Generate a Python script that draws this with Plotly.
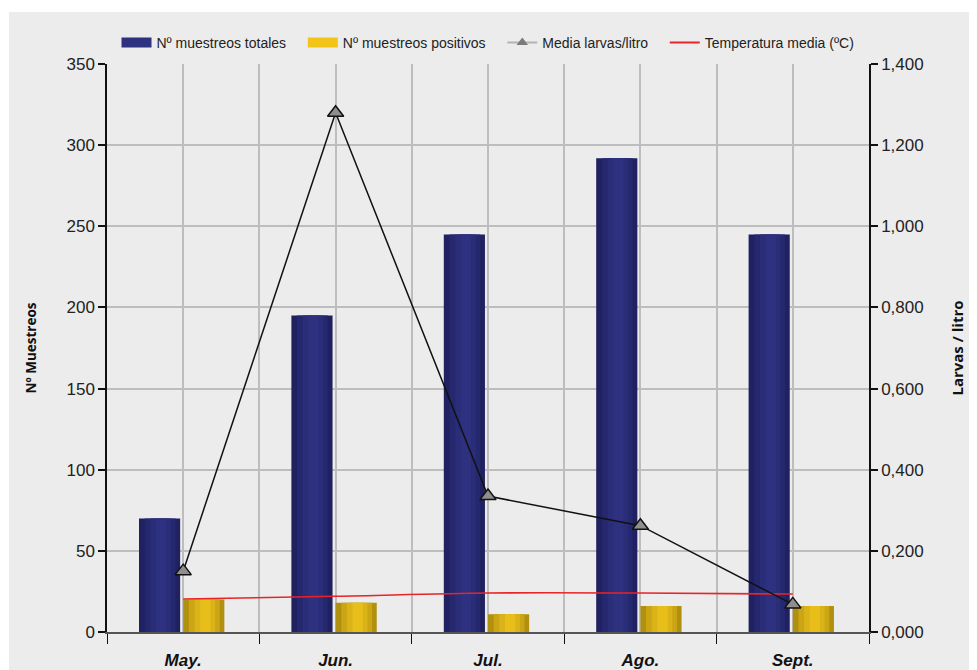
import plotly.graph_objects as go

months = ["May.", "Jun.", "Jul.", "Ago.", "Sept."]
totales = [70, 195, 245, 292, 245]
positivos = [20, 18, 11, 16, 16]
larvas = [0.150, 1.280, 0.335, 0.262, 0.068]
temperatura = [20.3, 22.0, 24.0, 24.0, 23.4]
right_ticks = [0, 0.2, 0.4, 0.6, 0.8, 1.0, 1.2, 1.4]
right_labels = ["0,000", "0,200", "0,400", "0,600", "0,800", "1,000", "1,200", "1,400"]

xs = list(range(len(months)))
BG = "#ECECEC"
GRID = "#BDBDBD"
BW = 0.27
PAD = "\u00a0" * 3  # extra spacing between legend entries

fig = go.Figure()

def cylinder(values, offset, shades, name):
    # shaded strips across the bar width give a cylinder look
    n = len(shades)
    for i, c in enumerate(shades):
        w = BW * (1 - i / n) if i else BW
        off = offset + (BW - w) * 0.55 if i else offset
        fig.add_trace(go.Bar(x=xs, y=values, name=name, showlegend=False,
                             marker=dict(color=c, line=dict(width=0)),
                             width=w, offset=off, hoverinfo="skip" if i else None))

cylinder(totales, -0.29, ["#1F2160", "#25286E", "#2A2D78", "#2E3180"], "Nº muestreos totales")
cylinder(positivos, 0.0, ["#B0900F", "#CBA514", "#DAB318", "#E8BE1B"], "Nº muestreos positivos")

fig.add_trace(go.Scatter(x=xs, y=larvas, yaxis="y2", mode="lines+markers", showlegend=False,
                         name="Media larvas/litro",
                         line=dict(color="#111111", width=1.5),
                         marker=dict(symbol="triangle-up", size=14, color="#8E8E8E",
                                     line=dict(color="#111111", width=1.5))))
fig.add_trace(go.Scatter(x=xs, y=temperatura, mode="lines", showlegend=False,
                         name="Temperatura media (ºC)",
                         line=dict(color="#E8232A", width=1.6, shape="spline")))

# legend entries
fig.add_trace(go.Scatter(x=[None], y=[None], mode="lines", name="Nº muestreos totales" + PAD,
                         line=dict(color="#2E3180", width=10)))
fig.add_trace(go.Scatter(x=[None], y=[None], mode="lines", name="Nº muestreos positivos" + PAD,
                         line=dict(color="#F2C418", width=10)))
fig.add_trace(go.Scatter(x=[None], y=[None], mode="lines+markers", name="Media larvas/litro" + PAD,
                         line=dict(color="#B4B4B4", width=2),
                         marker=dict(symbol="triangle-up", size=10, color="#7A7A7A")))
fig.add_trace(go.Scatter(x=[None], y=[None], mode="lines", name="Temperatura media (ºC)",
                         line=dict(color="#E8232A", width=2)))

fig.add_shape(type="rect", xref="paper", yref="paper", x0=-0.1286, x1=1.3, y0=-0.3, y1=1.0915,
              fillcolor=BG, line=dict(width=0), layer="below")

fig.update_layout(
    width=977, height=670,
    margin=dict(l=99, r=116, t=56, b=46, autoexpand=False),
    paper_bgcolor="white", plot_bgcolor=BG,
    barmode="overlay",
    font=dict(family="Liberation Sans, Arial, sans-serif", size=17, color="#222222"),
    showlegend=True,
    legend=dict(orientation="h", x=0.5, xanchor="center", y=1.037, yanchor="middle",
                font=dict(size=14, color="#222222"), bgcolor="rgba(0,0,0,0)",
                tracegroupgap=0),
    xaxis=dict(range=[-0.5, 4.5], tickvals=xs, ticktext=months, automargin=False,
               showgrid=True, gridcolor=GRID, gridwidth=1.5,
               ticks="outside", ticklen=12, tickcolor="rgba(0,0,0,0)",
               showline=True, linecolor="#555555", linewidth=2,
               tickfont=dict(family="Liberation Sans, Arial, sans-serif", size=17,
                             weight="bold", style="italic", color="#111111"),
               minor=dict(tick0=0.5, dtick=1, showgrid=True, gridcolor=GRID, gridwidth=1.5,
                          ticks="outside", ticklen=10, tickcolor="#111111", tickwidth=1.2),
               zeroline=False, fixedrange=True),
    yaxis=dict(range=[0, 350], dtick=50, showgrid=True, gridcolor=GRID, gridwidth=1.5,
               automargin=False,
               ticks="outside", ticklen=7, tickcolor="#111111", tickwidth=1.5,
               showline=True, linecolor="#111111", linewidth=1.5, zeroline=False,
               title=dict(text="Nº Muestreos", standoff=27,
                          font=dict(family="Open Sans, sans-serif", size=13.5, weight="bold", color="#111111")),
               tickfont=dict(size=17, color="#222222")),
    yaxis2=dict(range=[0, 1.4], overlaying="y", side="right", automargin=False,
                tickvals=right_ticks, ticktext=right_labels, showgrid=False,
                ticks="outside", ticklen=7, tickcolor="#111111", tickwidth=1.5,
                showline=True, linecolor="#111111", linewidth=1.5, zeroline=False,
                title=dict(text="Larvas / litro", standoff=30,
                           font=dict(family="Open Sans, sans-serif", size=15, weight="bold", color="#111111")),
                tickfont=dict(size=17, color="#222222")),
)

fig.write_html("out.html")
